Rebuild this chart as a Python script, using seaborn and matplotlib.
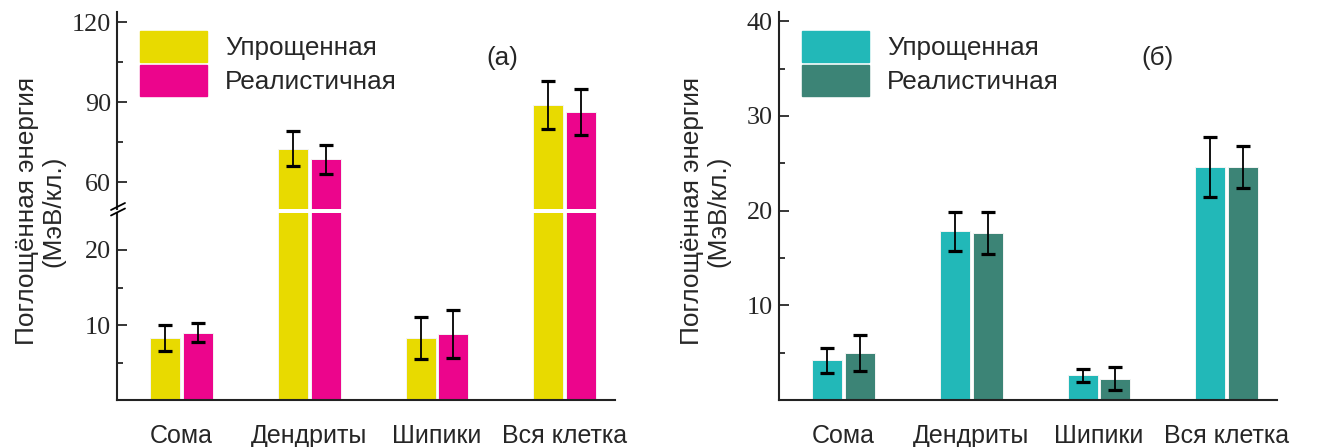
import numpy as np
import pandas as pd
import matplotlib
matplotlib.use("Agg")
import matplotlib.pyplot as plt
from matplotlib.lines import Line2D
import seaborn as sns

categories = ["Сома", "Дендриты", "Шипики", "Вся клетка"]
models = ["Упрощенная", "Реалистичная"]

# panel (a)
a_simple = [8.3, 72.6, 8.3, 88.9]
a_simple_err = [1.7, 6.7, 2.8, 9.0]
a_real = [9.0, 68.6, 8.8, 86.4]
a_real_err = [1.3, 5.4, 3.2, 8.6]

# panel (б)
b_simple = [4.2, 17.8, 2.6, 24.6]
b_simple_err = [1.3, 2.1, 0.65, 3.2]
b_real = [5.0, 17.6, 2.25, 24.6]
b_real_err = [1.9, 2.2, 1.2, 2.25]

pal_a = {"Упрощенная": "#E8DA00", "Реалистичная": "#EC058C"}
pal_b = {"Упрощенная": "#22B8B8", "Реалистичная": "#3C8476"}

W, H = 1328, 447
FS = 18.8
sns.set_style("white")
plt.rcParams["font.family"] = ["Liberation Sans", "DejaVu Sans"]


def make_df(v1, v2):
    return pd.DataFrame({
        "cat": categories * 2,
        "model": [models[0]] * 4 + [models[1]] * 4,
        "val": list(v1) + list(v2),
    })


def px_axes(fig, x0, x1, ytop, ybot):
    return fig.add_axes([x0 / W, 1 - ybot / H, (x1 - x0) / W, (ybot - ytop) / H])


def draw_bars(ax, df, pal, errs):
    sns.barplot(data=df, x="cat", y="val", hue="model", order=categories,
                hue_order=models, palette=pal, width=0.51, gap=0.08,
                errorbar=None, edgecolor="#f4f4f4", linewidth=0.7,
                legend=False, ax=ax, saturation=1)
    for cont, err in zip(ax.containers, errs):
        for bar, e in zip(cont, err):
            xc = bar.get_x() + bar.get_width() / 2
            ax.errorbar(xc, bar.get_height(), yerr=e, color="black", lw=1.3,
                        capsize=5, capthick=2.3, fmt="none", zorder=5)
    ax.set_xlim(-0.507, 3.394)
    ax.set_xlabel("")
    ax.set_ylabel("")


def style_y(ax, major, minor):
    ax.set_yticks(major)
    ax.set_yticks(minor, minor=True)
    ax.tick_params(axis="y", which="major", direction="in", length=7,
                   width=1.3, pad=4.5, left=True, labelsize=FS)
    ax.tick_params(axis="y", which="minor", direction="in", length=4.5,
                   width=1.3, left=True)
    for lab in ax.get_yticklabels():
        lab.set_family("Liberation Serif")
    for s in ["top", "right"]:
        ax.spines[s].set_visible(False)
    for s in ["left", "bottom"]:
        ax.spines[s].set_linewidth(1.5)
        ax.spines[s].set_color("#222222")


def style_x(ax):
    ax.tick_params(axis="x", length=0, pad=17, labelsize=18)


def add_legend(fig, pal, x0):
    handles = [plt.Rectangle((0, 0), 1, 1, color=pal[m]) for m in models]
    fig.legend(handles, models, loc="upper left",
               bbox_to_anchor=(x0 / W, 1 - 30.5 / H), frameon=False, fontsize=FS,
               handlelength=2.58, handleheight=1.46, labelspacing=0.13,
               handletextpad=0.7, borderpad=0, borderaxespad=0)


fig = plt.figure(figsize=(W / 100, H / 100), dpi=100)

# ---- panel (a), broken axis ----
df_a = make_df(a_simple, a_real)
ax_lo = px_axes(fig, 117, 615, 212.5, 400)
ax_hi = px_axes(fig, 117, 615, 11.7, 208.7)
draw_bars(ax_lo, df_a, pal_a, [a_simple_err, a_real_err])
draw_bars(ax_hi, df_a, pal_a, [a_simple_err, a_real_err])
ax_lo.set_ylim(0, 25)
ax_hi.set_ylim(50, 124)
style_y(ax_lo, [10, 20], [5, 15])
style_y(ax_hi, [60, 90, 120], [75, 105])
style_x(ax_lo)
ax_hi.spines["bottom"].set_visible(False)
ax_hi.set_xticks([])

# break marks
for yb in (206.0, 211.5):
    fig.add_artist(Line2D([111 / W, 125 / W], [1 - (yb + 4) / H, 1 - (yb - 3) / H],
                          color="black", lw=1.3))

ylab = "Поглощённая энергия\n(МэВ/кл.)"
fig.text(40 / W, 1 - 211 / H, ylab, rotation=90, ha="center", va="center",
         fontsize=FS, linespacing=1.15)
add_legend(fig, pal_a, 139.5)
fig.text(502.5 / W, 1 - 58 / H, "(а)", ha="center", va="center", fontsize=FS)

# ---- panel (б) ----
df_b = make_df(b_simple, b_real)
ax_b = px_axes(fig, 779, 1277, 11.7, 400)
draw_bars(ax_b, df_b, pal_b, [b_simple_err, b_real_err])
ax_b.set_ylim(0, 41)
style_y(ax_b, [10, 20, 30, 40], [5, 15, 25, 35])
style_x(ax_b)

fig.text(705 / W, 1 - 211 / H, ylab, rotation=90, ha="center", va="center",
         fontsize=FS, linespacing=1.15)
add_legend(fig, pal_b, 801.5)
fig.text(1157.5 / W, 1 - 58 / H, "(б)", ha="center", va="center", fontsize=FS)

fig.savefig("out.png", dpi=100)
